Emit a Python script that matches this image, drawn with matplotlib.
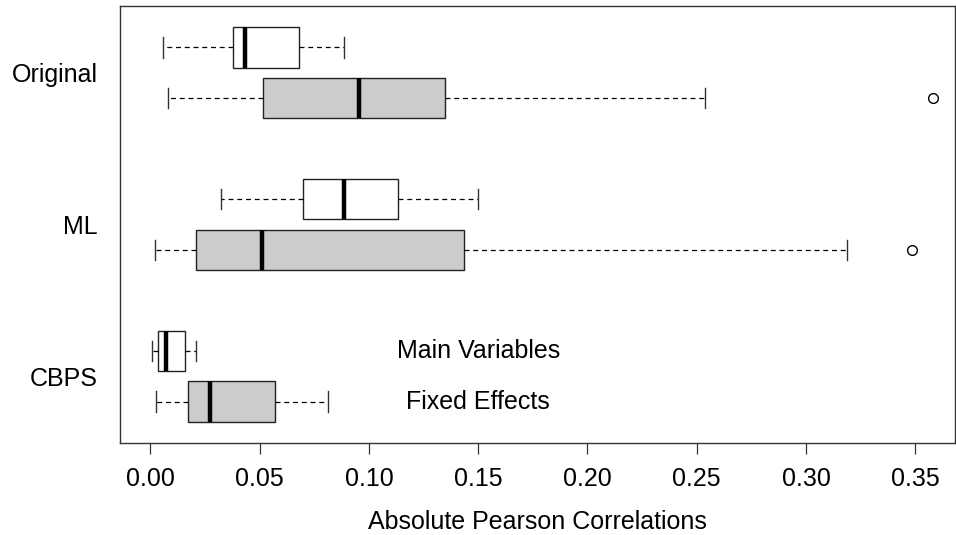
import matplotlib
matplotlib.use("Agg")
import matplotlib.pyplot as plt

plt.rcParams["font.family"] = ["Liberation Sans", "DejaVu Sans"]

# Box statistics (absolute Pearson correlations)
methods = ["Original", "ML", "CBPS"]
groups = ["Main Variables", "Fixed Effects"]

main_whislo = [0.0059, 0.0324, 0.0006]
main_q1 = [0.0376, 0.0697, 0.0036]
main_med = [0.0433, 0.0887, 0.0070]
main_q3 = [0.0680, 0.1134, 0.0160]
main_whishi = [0.0885, 0.1497, 0.0210]
main_fliers = [[], [], []]

fe_whislo = [0.0079, 0.0020, 0.0024]
fe_q1 = [0.0517, 0.0210, 0.0170]
fe_med = [0.0956, 0.0510, 0.0273]
fe_q3 = [0.1348, 0.1435, 0.0570]
fe_whishi = [0.2540, 0.3190, 0.0812]
fe_fliers = [[0.358], [0.3485], []]

x_ticks = [0.00, 0.05, 0.10, 0.15, 0.20, 0.25, 0.30, 0.35]


def make_stats(lo, q1, med, q3, hi, fl):
    return [dict(whislo=a, q1=b, med=c, q3=d, whishi=e, fliers=f)
            for a, b, c, d, e, f in zip(lo, q1, med, q3, hi, fl)]


main_stats = make_stats(main_whislo, main_q1, main_med, main_q3, main_whishi, main_fliers)
fe_stats = make_stats(fe_whislo, fe_q1, fe_med, fe_q3, fe_whishi, fe_fliers)

main_pos = [1, 4, 7]
fe_pos = [2, 5, 8]

fs = 18

fig = plt.figure(figsize=(9.56, 5.35), dpi=100)
ax = fig.add_axes([120 / 956, 1 - 443 / 535, 835 / 956, 437 / 535])

common = dict(
    orientation="horizontal",
    widths=0.8,
    capwidths=0.4,
    patch_artist=True,
    whiskerprops=dict(color="black", linewidth=0.9, linestyle=(0, (4, 3))),
    capprops=dict(color="#333333", linewidth=1.0),
    medianprops=dict(color="black", linewidth=3.2, solid_capstyle="butt"),
    flierprops=dict(marker="o", markersize=7, markerfacecolor="none",
                    markeredgecolor="black", markeredgewidth=1.0),
)

ax.bxp(main_stats, positions=main_pos,
       boxprops=dict(facecolor="white", edgecolor="#222222", linewidth=1.0),
       **common)
ax.bxp(fe_stats, positions=fe_pos,
       boxprops=dict(facecolor="#CCCCCC", edgecolor="#222222", linewidth=1.0),
       **common)

ax.set_xlim(-0.0139, 0.3682)
ax.set_ylim(8.82, 0.18)

ax.set_xticks(x_ticks)
ax.set_xticklabels([f"{t:.2f}" for t in x_ticks], fontsize=fs)
ax.tick_params(axis="x", length=8, width=0.9, pad=9, color="#333333")

ax.set_yticks([(a + b) / 2 for a, b in zip(main_pos, fe_pos)])
ax.set_yticklabels(methods, fontsize=fs)
ax.tick_params(axis="y", length=0, pad=16)

for s in ax.spines.values():
    s.set_color("#333333")
    s.set_linewidth(1.0)

ax.text(0.15, 7, groups[0], ha="center", va="center", fontsize=fs)
ax.text(0.15, 8, groups[1], ha="center", va="center", fontsize=fs)

ax.set_xlabel("Absolute Pearson Correlations", fontsize=fs, labelpad=14)

fig.savefig("out.png", dpi=100)
